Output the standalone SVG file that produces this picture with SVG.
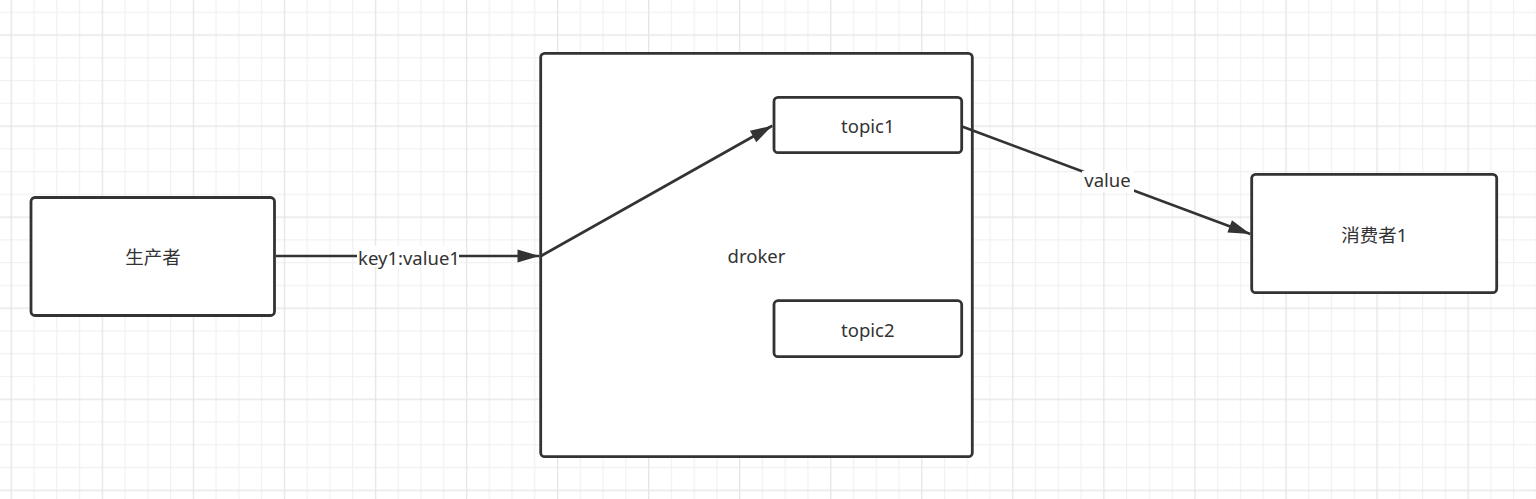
<svg xmlns="http://www.w3.org/2000/svg" width="1536" height="499" viewBox="0 0 1536 499">
  <style>
    .box { fill: #ffffff; stroke: #333333; stroke-width: 2.8; }
    .lbl { font-family: "Noto Sans", "Noto Sans CJK SC", sans-serif; font-size: 18.5px; fill: #333333; text-anchor: middle; }
    .edge { fill: none; stroke: #333333; stroke-width: 2.7; }
    .lblbg { fill: #ffffff; }
  </style>
  <defs>
    <pattern id="grid" patternUnits="userSpaceOnUse" x="10.65" y="34.4" width="91.05" height="91.05">
      <rect x="22.76" y="0" width="1.2" height="91.05" fill="#f1f1f1"/>
      <rect x="45.53" y="0" width="1.2" height="91.05" fill="#f1f1f1"/>
      <rect x="68.29" y="0" width="1.2" height="91.05" fill="#f1f1f1"/>
      <rect x="0" y="22.76" width="91.05" height="1.2" fill="#f1f1f1"/>
      <rect x="0" y="45.53" width="91.05" height="1.2" fill="#f1f1f1"/>
      <rect x="0" y="68.29" width="91.05" height="1.2" fill="#f1f1f1"/>
      <rect x="0" y="0" width="1.3" height="91.05" fill="#e5e5e5"/>
      <rect x="0" y="0" width="91.05" height="1.3" fill="#e5e5e5"/>
    </pattern>
    <marker id="arrow" markerUnits="userSpaceOnUse" markerWidth="24" markerHeight="14" refX="22" refY="6.5" orient="auto" overflow="visible">
      <path d="M0,0 L22,6.5 L0,13 Z" fill="#333333"/>
    </marker>
  </defs>

  <rect x="0" y="0" width="1536" height="499" fill="#ffffff"/>
  <rect x="0" y="0" width="1536" height="499" fill="url(#grid)"/>

  <g id="producer">
    <rect class="box" x="31" y="197.5" width="243.5" height="118" rx="4"/>
    <text class="lbl" x="153" y="264">生产者</text>
  </g>

  <g id="broker">
    <rect class="box" x="540.7" y="53.3" width="431.6" height="403.4" rx="4"/>
    <text class="lbl" x="756.5" y="263.3">droker</text>
  </g>

  <g id="topic1">
    <rect class="box" x="774" y="97.3" width="187.7" height="55.4" rx="4"/>
    <text class="lbl" x="867.8" y="133.3">topic1</text>
  </g>

  <g id="topic2">
    <rect class="box" x="774" y="300.7" width="187.7" height="56" rx="4"/>
    <text class="lbl" x="867.8" y="336.7">topic2</text>
  </g>

  <g id="consumer1">
    <rect class="box" x="1251.7" y="174.3" width="245" height="118.4" rx="4"/>
    <text class="lbl" x="1374.2" y="242">消费者1</text>
  </g>

  <g id="connectors">
    <path class="edge" d="M275.8,256 L539.5,256" marker-end="url(#arrow)"/>
    <rect class="lblbg" x="357" y="246" width="102" height="21"/>
    <text class="lbl" x="409" y="265">key1:value1</text>

    <path class="edge" d="M541,256 L772.3,125.7" marker-end="url(#arrow)"/>

    <path class="edge" d="M962.7,126.7 L1250.3,234" marker-end="url(#arrow)"/>
    <rect class="lblbg" x="1082" y="171" width="52" height="21"/>
    <text class="lbl" x="1107.5" y="187.3">value</text>
  </g>
</svg>
